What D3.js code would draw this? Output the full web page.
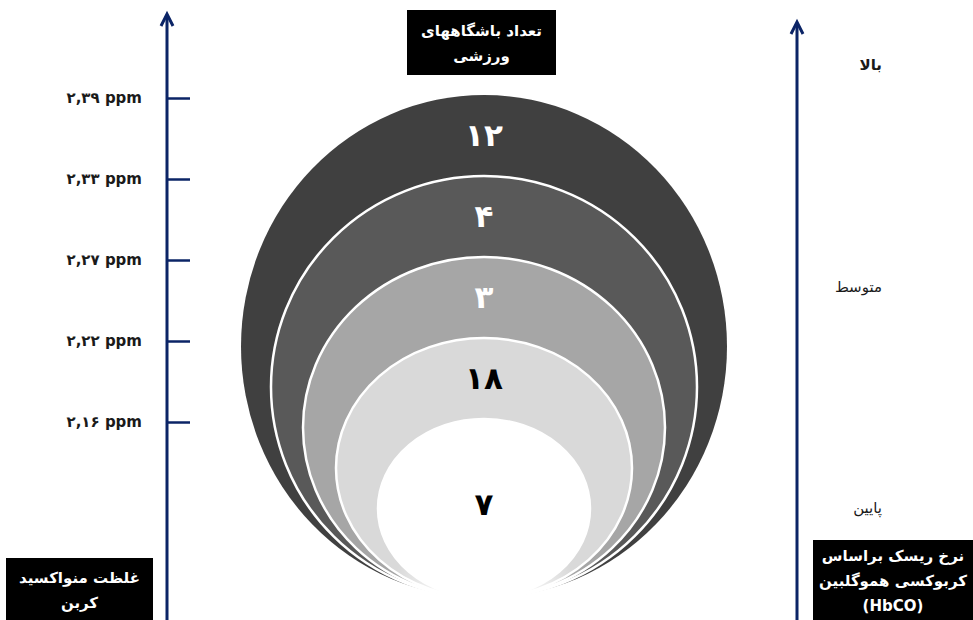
<!DOCTYPE html>
<html>
<head>
<meta charset="utf-8">
<script src="https://cdn.jsdelivr.net/npm/d3@7"></script>
<style>
  html, body { margin: 0; padding: 0; background: #ffffff; }
  svg { display: block; }
  text { font-family: "DejaVu Sans", "Noto Sans", sans-serif; }
</style>
</head>
<body>
<div id="chart"></div>
<script>
// Carbon monoxide concentration levels (left axis, top to bottom)
const coLevels = ["۲,۳۹ ppm", "۲,۳۳ ppm", "۲,۲۷ ppm", "۲,۲۲ ppm", "۲,۱۶ ppm"];
// Number of sports clubs in each nested ring, outermost first
const clubCounts = ["۱۲", "۴", "۳", "۱۸", "۷"];
// HbCO risk levels on the right axis
const riskLevels = ["بالا", "متوسط", "پایین"];
// Ring fills and label colours, outermost first
const ringFills = ["#404040", "#595959", "#a6a6a6", "#d9d9d9", "#ffffff"];
const labelFills = ["#ffffff", "#ffffff", "#ffffff", "#000000", "#000000"];

const W = 973, H = 620;
const navy = "#0b2466";

const svg = d3.select("#chart").append("svg")
  .attr("width", W).attr("height", H);

const defs = svg.append("defs");

// Soft fade where the rings meet at the bottom
const grad = defs.append("radialGradient")
  .attr("id", "fade")
  .attr("gradientUnits", "userSpaceOnUse")
  .attr("cx", 484).attr("cy", 604).attr("r", 110);
grad.append("stop").attr("offset", 0.3).attr("stop-color", "#000");
grad.append("stop").attr("offset", 0.85).attr("stop-color", "#fff");
const mask = defs.append("mask").attr("id", "ringMask")
  .attr("maskUnits", "userSpaceOnUse")
  .attr("x", 0).attr("y", 0).attr("width", W).attr("height", H);
mask.append("rect").attr("width", W).attr("height", H).attr("fill", "url(#fade)");

// Left axis scale: one level per ring top
const y = d3.scalePoint().domain(coLevels).range([98, 422]);
// Right axis scale
const yRisk = d3.scalePoint().domain(riskLevels).range([65, 508]);

// Rings: each is an ellipse whose top sits at its CO tick, all touching the same bottom point
const cx = 484, bottomY = 598;
const widths = [486, 426, 362, 296, 212];
const rings = coLevels.map((lvl, i) => {
  const top = y(lvl) - 3;
  return {
    top,
    rx: widths[i] / 2,
    ry: (bottomY - top) / 2,
    fill: ringFills[i],
    label: clubCounts[i],
    labelFill: labelFills[i]
  };
});

const ringG = svg.append("g").attr("mask", "url(#ringMask)");
ringG.selectAll("ellipse")
  .data(rings)
  .join("ellipse")
  .attr("cx", cx)
  .attr("cy", d => d.top + d.ry)
  .attr("rx", d => d.rx)
  .attr("ry", d => d.ry)
  .attr("fill", d => d.fill)
  .attr("stroke", "#ffffff")
  .attr("stroke-width", (d, i) => i === 0 ? 0 : 2.5);

// Ring labels: midway between successive ring tops, the last one inside the inner ellipse
svg.append("g").selectAll("text")
  .data(rings)
  .join("text")
  .attr("x", cx)
  .attr("y", (d, i) => i < rings.length - 1 ? (d.top + rings[i + 1].top) / 2 : d.top + d.ry * 0.95)
  .attr("dy", "0.35em")
  .attr("text-anchor", "middle")
  .attr("font-size", 31)
  .attr("font-weight", "bold")
  .attr("fill", d => d.labelFill)
  .text(d => d.label);

// Arrow-headed vertical axis line
function axisArrow(x, tipY) {
  const g = svg.append("g").attr("stroke", navy).attr("fill", "none")
    .attr("stroke-width", 3);
  g.append("line").attr("x1", x).attr("x2", x).attr("y1", tipY + 2).attr("y2", H);
  g.append("path")
    .attr("d", `M${x - 6},${tipY + 12}L${x},${tipY}L${x + 6},${tipY + 12}`)
    .attr("stroke-linejoin", "miter");
}

// Left axis
axisArrow(167, 14);
const leftAxis = d3.axisLeft(y).tickSize(-23).tickPadding(25);
const la = svg.append("g").attr("transform", "translate(167,0)").call(leftAxis);
la.select(".domain").remove();
la.selectAll(".tick line").attr("stroke", navy).attr("stroke-width", 2.5);
la.selectAll(".tick text")
  .attr("fill", "#1a1a1a")
  .attr("font-size", 15)
  .attr("font-weight", "bold")
  .style("font-family", "'DejaVu Sans', sans-serif");

// Right axis
axisArrow(797, 22);
svg.append("g").selectAll("text")
  .data(riskLevels)
  .join("text")
  .attr("x", 882)
  .attr("y", d => yRisk(d))
  .attr("dy", "0.35em")
  .attr("text-anchor", "end")
  .attr("font-size", 15)
  .attr("font-weight", (d, i) => i === 0 ? "bold" : "normal")
  .attr("fill", "#1a1a1a")
  .text(d => d);

// Black caption boxes with white text
function captionBox(x, yTop, w, h, lines, firstY, lineH) {
  svg.append("rect").attr("x", x).attr("y", yTop).attr("width", w).attr("height", h)
    .attr("fill", "#000");
  svg.append("g").selectAll("text")
    .data(lines)
    .join("text")
    .attr("x", x + w / 2)
    .attr("y", (d, i) => firstY + i * lineH)
    .attr("dy", "0.35em")
    .attr("text-anchor", "middle")
    .attr("font-size", 15)
    .attr("font-weight", "bold")
    .attr("fill", "#fff")
    .text(d => d);
}

captionBox(407, 10, 149, 65, ["تعداد باشگاههای", "ورزشی"], 31, 25);
captionBox(6, 558, 147, 70, ["غلظت منواکسید", "کربن"], 578, 25);
captionBox(813, 540, 160, 85, ["نرخ ریسک براساس", "کربوکسی هموگلبین", "(HbCO)"], 556, 25);
</script>
</body>
</html>
